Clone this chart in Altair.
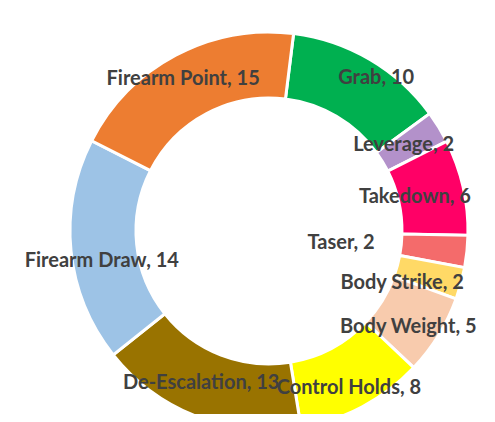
import math
import altair as alt
import pandas as pd

categories = ["Grab", "Leverage", "Takedown", "Taser", "Body Strike",
              "Body Weight", "Control Holds", "De-Escalation", "Firearm Draw", "Firearm Point"]
values = [10, 2, 6, 2, 2, 5, 8, 13, 14, 15]
colors = ["#00B050", "#B391CA", "#FF0066", "#F46B6B", "#FFD966",
          "#F8CBAD", "#FFFF00", "#997300", "#9DC3E6", "#ED7D31"]

df = pd.DataFrame({"category": categories, "value": values, "order": list(range(len(categories)))})
df["label"] = df["category"] + ", " + df["value"].astype(str)
total = sum(values)

start = math.radians(7.1)
theta_scale = alt.Scale(domain=[0, total], range=[start, start + 2 * math.pi])
cx, cy = 261, 223
outer, inner = 199, 133
mid_r = (outer + inner) / 2

# label nudges (pixels) to mimic the original label placement
nudges = {
    "Grab": (23, -10), "Leverage": (-7, 1), "Takedown": (-16, 3), "Taser": (-93, -5),
    "Body Strike": (-27, 8), "Body Weight": (-2, 9), "Control Holds": (2, 10),
    "De-Escalation": (-8, -3), "Firearm Draw": (-2, 13), "Firearm Point": (-8, -5),
}

base = alt.Chart(df)
arcs = base.mark_arc(outerRadius=outer, innerRadius=inner, stroke="white", strokeWidth=3).encode(
    theta=alt.Theta("value:Q", stack=True, scale=theta_scale),
    order=alt.Order("order:Q"),
    color=alt.Color("category:N", scale=alt.Scale(domain=categories, range=colors), legend=None),
    x=alt.value(cx), y=alt.value(cy),
)

lab_base = base.transform_window(
    cum="sum(value)", sort=[alt.SortField("order", order="ascending")], frame=[None, 0]
).transform_calculate(mid="datum.cum - datum.value / 2")

layers = [arcs]
for c in categories:
    dx, dy = nudges[c]
    layers.append(
        lab_base.transform_filter(alt.datum.category == c).mark_text(
            radius=mid_r, dx=dx, dy=dy, font="Lato", fontWeight="bold",
            fontSize=20, color="#404040", align="center", baseline="middle",
        ).encode(
            theta=alt.Theta("mid:Q", stack=False, scale=theta_scale),
            text="label:N",
            x=alt.value(cx), y=alt.value(cy),
        )
    )

chart = alt.layer(*layers).properties(
    width=479, height=406, padding=0,
    autosize=alt.AutoSizeParams(type="none"),
).configure_view(stroke=None)

chart.save("out.html", embed_options={"renderer": "svg", "actions": False})
